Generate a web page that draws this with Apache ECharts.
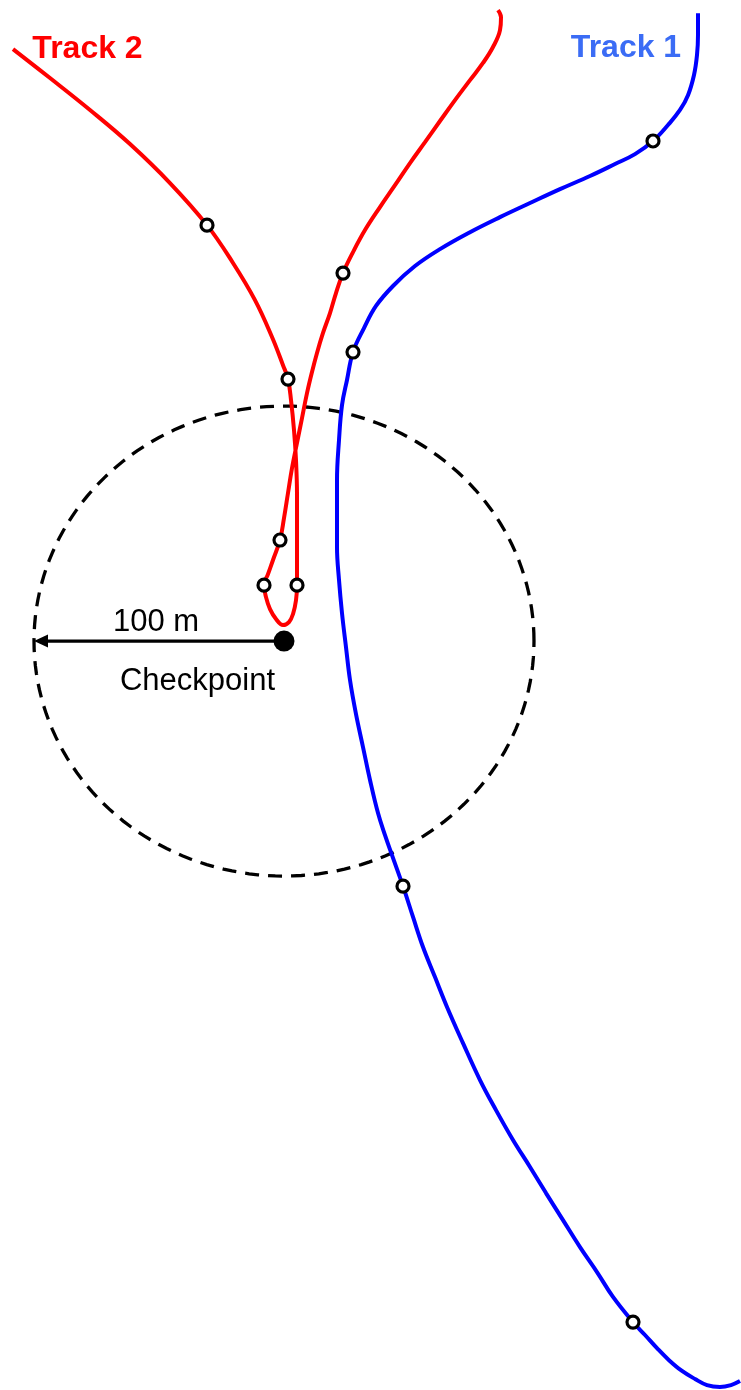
<!DOCTYPE html>
<html>
<head>
<meta charset="utf-8">
<title>Tracks near checkpoint</title>
<script src="https://cdn.jsdelivr.net/npm/echarts@6.0.0/dist/echarts.min.js"></script>
<style>
  html, body { margin: 0; padding: 0; background: #fff; }
  #main { width: 741px; height: 1390px; }
</style>
</head>
<body>
<div id="main"></div>
<script>
// positions in metres, east / north of the checkpoint
const track1 = [
  [165.6, 267.2], [165.6, 257.9], [165.2, 249.4], [164.0, 240.9], [161.6, 232.3],
  [158.4, 226.0], [153.6, 219.6], [147.6, 212.8], [140.4, 207.2], [132.4, 203.0],
  [122.4, 197.9], [110.4, 192.3], [98.4, 186.4], [86.4, 180.4], [74.4, 174.0],
  [62.4, 166.8], [52.4, 159.6], [43.6, 151.1], [36.8, 142.6], [32.0, 133.2],
  [27.6, 123.0], [25.2, 111.1], [23.2, 100.4], [22.0, 85.5], [21.2, 68.5],
  [21.2, 53.6], [21.2, 40.0], [22.0, 26.0], [23.2, 11.9], [24.8, -2.6],
  [26.4, -16.6], [28.8, -31.1], [31.6, -45.1], [34.4, -59.1], [37.6, -73.2],
  [40.4, -82.6], [43.2, -91.1], [47.6, -104.3], [51.6, -117.4], [55.6, -130.2],
  [60.4, -143.0], [65.2, -155.7], [71.6, -171.1], [78.4, -186.8], [84.8, -199.6],
  [91.6, -212.3], [98.4, -223.8], [104.8, -234.9], [111.6, -246.4], [118.4, -257.9],
  [125.2, -268.5], [131.6, -279.1], [139.6, -289.8], [144.4, -295.3], [149.2, -300.9],
  [154.0, -306.0], [159.2, -310.6], [164.4, -314.0], [169.2, -316.6], [174.4, -317.4],
  [178.8, -316.6], [182.4, -314.9]
]
const track1Fixes = [[147.6, 212.8], [27.6, 123.0], [47.6, -104.3], [139.6, -289.8]]

const track2 = [
  [-108.4, 251.9], [-93.6, 239.6], [-77.6, 226.0], [-61.6, 211.5], [-45.6, 194.9],
  [-30.8, 177.0], [-20.4, 160.9], [-11.6, 145.1], [-4.8, 129.4], [-0.4, 117.4],
  [1.6, 111.5], [2.8, 102.6], [4.0, 89.8], [4.8, 77.0], [5.2, 62.1],
  [5.2, 48.5], [5.2, 36.6], [5.2, 23.8], [4.8, 17.4], [3.6, 11.5],
  [2.0, 8.1], [-0.4, 6.8], [-3.2, 9.4], [-5.6, 13.6], [-7.2, 18.7],
  [-8.0, 23.8], [-6.4, 28.5], [-4.4, 34.5], [-1.6, 43.0], [0.0, 52.3],
  [1.6, 63.0], [3.2, 73.6], [5.2, 84.3], [7.2, 94.9], [9.2, 105.5],
  [11.2, 114.5], [13.2, 122.6], [15.6, 131.1], [18.4, 139.6], [20.8, 148.1],
  [23.6, 156.6], [27.6, 165.5], [32.4, 174.9], [38.4, 184.7], [44.4, 194.0],
  [50.4, 203.4], [56.4, 212.3], [62.4, 221.3], [68.4, 230.2], [74.4, 238.7],
  [79.6, 246.0], [83.6, 252.8], [86.4, 260.0], [86.8, 265.5], [85.6, 268.5]
]
const track2Fixes = [[-30.8, 177.0], [1.6, 111.5], [23.6, 156.6], [-1.6, 43.0], [-8.0, 23.8], [5.2, 23.8]]

const checkpoint = [0, 0]
const radius = 100

// text anchors (metres)
const notes = [
  { name: '100 m', value: [-51.2, 7.9], label: { fontSize: 31, color: '#000' } },
  { name: 'Checkpoint', value: [-34.6, -17.0], label: { fontSize: 31, color: '#000' } },
  { name: 'Track 2', value: [-78.6, 251.9], label: { fontSize: 32, fontWeight: 'bold', color: '#ff0000' } },
  { name: 'Track 1', value: [136.8, 252.1], label: { fontSize: 32, fontWeight: 'bold', color: '#3b6cf5' } }
]

const myChart = echarts.init(document.getElementById('main'))

const fixStyle = {
  color: '#fff',
  borderColor: '#000',
  borderWidth: 3.2,
  opacity: 1
}

const option = {
  animation: false,
  textStyle: { fontFamily: 'Liberation Sans, Arial, sans-serif' },
  grid: { left: 0, right: 0, top: 0, bottom: 0 },
  xAxis: { type: 'value', min: -113.6, max: 182.8, show: false },
  yAxis: { type: 'value', min: -318.7, max: 272.8, show: false },
  series: [
    {
      // 100 m ring round the checkpoint
      name: 'circle',
      type: 'custom',
      data: [checkpoint],
      silent: true,
      z: 1,
      renderItem(params, api) {
        const pts = []
        for (let i = 0; i <= 180; i++) {
          const a = i / 180 * Math.PI * 2
          pts.push(api.coord([api.value(0) + radius * Math.cos(a), api.value(1) + radius * Math.sin(a)]))
        }
        return {
          type: 'polyline',
          shape: { points: pts },
          style: { stroke: '#000', lineWidth: 3.3, lineDash: [14, 9], fill: 'none' }
        }
      }
    },
    {
      name: 'Track 1',
      type: 'line',
      data: track1,
      smooth: 0.4,
      showSymbol: false,
      lineStyle: { color: '#0000ff', width: 4 },
      z: 2
    },
    {
      name: 'Track 2',
      type: 'line',
      data: track2,
      smooth: 0.4,
      showSymbol: false,
      lineStyle: { color: '#ff0000', width: 4 },
      z: 2
    },
    {
      // radius arrow
      name: 'radius',
      type: 'custom',
      data: [checkpoint],
      silent: true,
      z: 3,
      renderItem(params, api) {
        const from = api.coord([api.value(0), api.value(1)])
        const tip = api.coord([api.value(0) - radius, api.value(1)])
        const len = 14
        const half = 6.5
        return {
          type: 'group',
          children: [
            {
              type: 'line',
              shape: { x1: from[0], y1: from[1], x2: tip[0] + len - 1, y2: tip[1] },
              style: { stroke: '#000', lineWidth: 3.3 }
            },
            {
              type: 'polygon',
              shape: { points: [[tip[0], tip[1]], [tip[0] + len, tip[1] - half], [tip[0] + len, tip[1] + half]] },
              style: { fill: '#000' }
            }
          ]
        }
      }
    },
    {
      name: 'fixes 1',
      type: 'scatter',
      data: track1Fixes,
      symbol: 'circle',
      symbolSize: 12,
      itemStyle: fixStyle,
      z: 4
    },
    {
      name: 'fixes 2',
      type: 'scatter',
      data: track2Fixes,
      symbol: 'circle',
      symbolSize: 12,
      itemStyle: fixStyle,
      z: 4
    },
    {
      name: 'checkpoint',
      type: 'scatter',
      data: [checkpoint],
      symbolSize: 21,
      itemStyle: { color: '#000', opacity: 1 },
      z: 5
    },
    {
      name: 'notes',
      type: 'scatter',
      data: notes,
      symbolSize: 0,
      itemStyle: { opacity: 1 },
      label: {
        show: true,
        position: 'inside',
        formatter: p => p.name
      },
      z: 6
    }
  ]
}

myChart.setOption(option)
</script>
</body>
</html>
